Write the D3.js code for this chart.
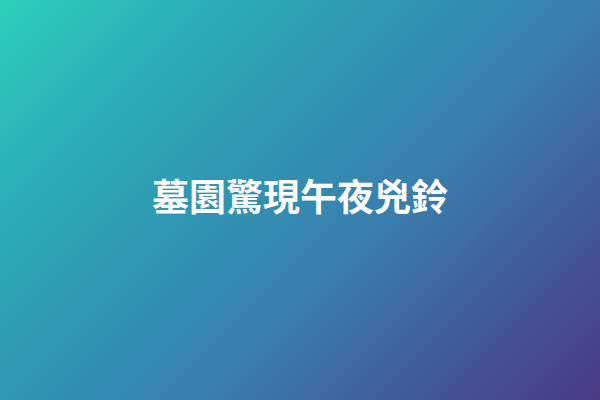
<!DOCTYPE html>
<html>
<head>
<meta charset="utf-8">
<script src="https://cdn.jsdelivr.net/npm/d3@7"></script>
<style>
  html, body { margin: 0; padding: 0; background: #fff; }
  svg { display: block; }
</style>
</head>
<body>
<script>
// Data
var titleText = "墓園驚現午夜兇鈴";
var stopOffsets = [0, 0.21, 0.4, 0.6, 0.78, 1];
var stopColors = ["#2dd0b8", "#2badb8", "#2f97b2", "#397fae", "#405e9c", "#4b3a82"];

var width = 600, height = 400;

var svg = d3.select("body")
    .append("svg")
    .attr("width", width)
    .attr("height", height);

// 135deg gradient, same as css linear-gradient on a 600x400 box
var half = (width + height) / 4;
var grad = svg.append("defs")
    .append("linearGradient")
    .attr("id", "bg")
    .attr("gradientUnits", "userSpaceOnUse")
    .attr("x1", width / 2 - half)
    .attr("y1", height / 2 - half)
    .attr("x2", width / 2 + half)
    .attr("y2", height / 2 + half);

grad.selectAll("stop")
    .data(stopOffsets)
    .enter()
    .append("stop")
    .attr("offset", function(d) { return d; })
    .attr("stop-color", function(d, i) { return stopColors[i]; });

svg.append("rect")
    .attr("width", width)
    .attr("height", height)
    .attr("fill", "url(#bg)");

svg.append("text")
    .attr("x", width / 2)
    .attr("y", 195)
    .attr("text-anchor", "middle")
    .attr("dominant-baseline", "central")
    .style("font-family", "'Noto Sans CJK TC', 'Noto Sans CJK SC', sans-serif")
    .style("font-weight", "bold")
    .style("font-size", "37px")
    .style("fill", "#fff")
    .text(titleText);
</script>
</body>
</html>
